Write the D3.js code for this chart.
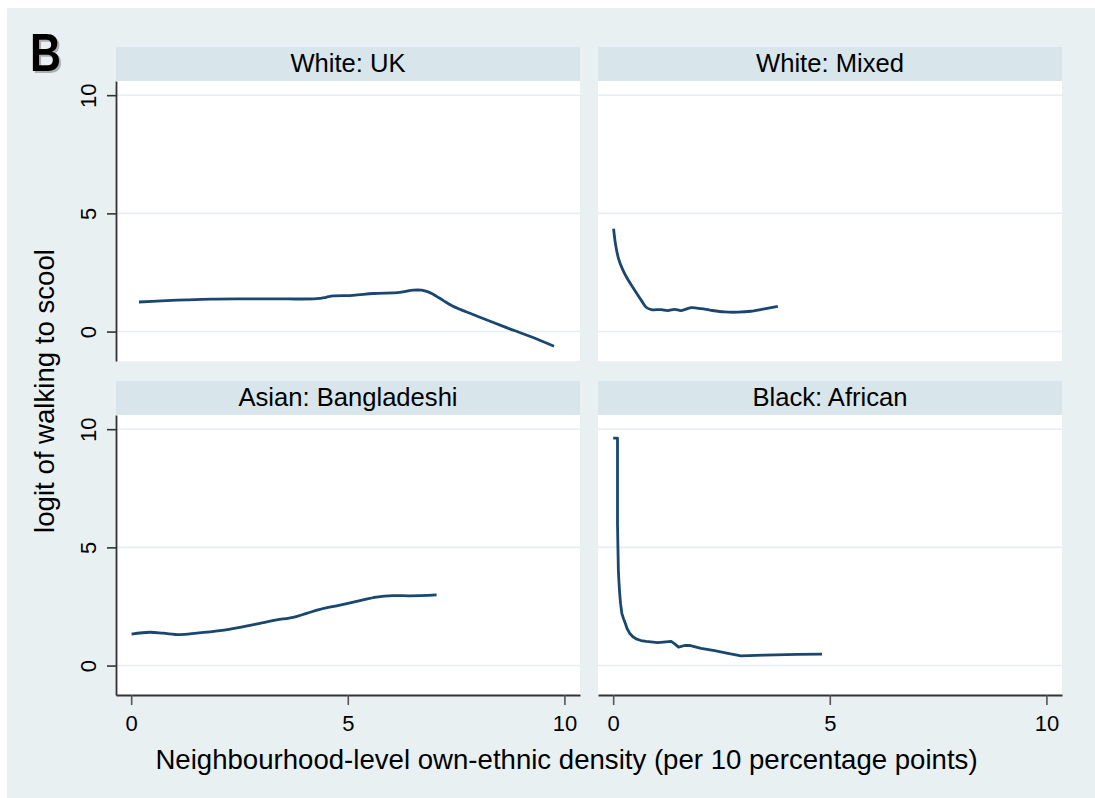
<!DOCTYPE html>
<html>
<head>
<meta charset="utf-8">
<script src="https://cdn.jsdelivr.net/npm/d3@7"></script>
<style>
  html, body { margin: 0; padding: 0; background: #ffffff; }
  svg { display: block; font-family: "Liberation Sans", Arial, sans-serif; }
</style>
</head>
<body>
<svg id="chart" width="1095" height="798"></svg>
<script>
// Panel titles, in reading order (top-left, top-right, bottom-left, bottom-right)
const panelTitles = ["White: UK", "White: Mixed", "Asian: Bangladeshi", "Black: African"];

// Smoothed logit curves: [own-ethnic density, logit of walking to school]
const whiteUK = [
  [0.18, 1.25], [0.70, 1.30], [1.28, 1.34], [1.85, 1.37], [2.43, 1.38], [3.00, 1.38],
  [3.59, 1.38], [4.28, 1.39], [4.50, 1.45], [4.66, 1.51], [5.12, 1.53], [5.59, 1.61],
  [6.20, 1.66], [6.51, 1.75], [6.70, 1.75], [6.82, 1.70], [6.95, 1.60], [7.05, 1.49],
  [7.20, 1.32], [7.43, 1.07], [7.89, 0.72], [8.59, 0.22], [9.20, -0.20], [9.76, -0.62]
];
const whiteMixed = [
  [0.01, 4.35], [0.05, 3.75], [0.12, 3.11], [0.22, 2.62], [0.34, 2.20], [0.49, 1.77],
  [0.65, 1.32], [0.76, 1.03], [0.88, 0.93], [1.11, 0.93], [1.26, 0.89], [1.42, 0.94],
  [1.57, 0.89], [1.80, 1.01], [2.03, 0.97], [2.26, 0.90], [2.57, 0.83], [2.88, 0.82],
  [3.18, 0.86], [3.49, 0.96], [3.80, 1.07]
];
const asianBangladeshi = [
  [0.01, 1.33], [0.43, 1.41], [0.74, 1.37], [1.12, 1.31], [1.51, 1.37], [2.05, 1.48],
  [2.51, 1.62], [3.05, 1.82], [3.36, 1.93], [3.74, 2.04], [4.05, 2.21], [4.36, 2.38],
  [4.82, 2.56], [5.28, 2.75], [5.66, 2.90], [6.05, 2.96], [6.43, 2.95], [7.05, 2.99]
];
const blackAfrican = [
  [0.00, 9.62], [0.10, 9.62], [0.10, 8.00], [0.10, 6.00], [0.11, 5.00], [0.12, 4.04],
  [0.135, 3.50], [0.15, 3.06], [0.17, 2.64], [0.20, 2.21], [0.24, 1.98], [0.28, 1.79],
  [0.32, 1.57], [0.38, 1.37], [0.45, 1.23], [0.53, 1.13], [0.64, 1.06], [0.76, 1.02],
  [1.03, 0.97], [1.34, 1.02], [1.42, 0.92], [1.51, 0.78], [1.65, 0.85], [1.76, 0.85],
  [2.03, 0.73], [2.34, 0.63], [2.65, 0.52], [2.95, 0.41], [3.49, 0.44], [4.26, 0.47],
  [4.82, 0.48]
];
const series = [whiteUK, whiteMixed, asianBangladeshi, blackAfrican];

// Axis ticks and labels
const xTicks = [0, 5, 10];
const yTicks = [0, 5, 10];
const xTitle = "Neighbourhood-level own-ethnic density (per 10 percentage points)";
const yTitle = "logit of walking to scool";
const panelLetter = "B";

// ---- layout ----
const colX = [116, 598];
const plotW = 464;
const stripTop = [47, 381];
const stripH = 34;
const plotH = 280;

const colors = {
  page: "#e8f0f2",
  strip: "#d8e5ea",
  plot: "#ffffff",
  grid: "#e6eef1",
  line: "#1a476f",
  axis: "#333333",
  text: "#000000"
};

// the Black: African curve has a sharp corner at its top, so it is drawn without smoothing
const curves = [
  d3.curveCatmullRom.alpha(0.5),
  d3.curveCatmullRom.alpha(0.5),
  d3.curveCatmullRom.alpha(0.5),
  d3.curveLinear
];

const svg = d3.select("#chart");

svg.append("rect")
  .attr("x", 7).attr("y", 8)
  .attr("width", 1095 - 7).attr("height", 798 - 8)
  .attr("fill", colors.page);

const xDomain = [-0.35, 10.36];
const yDomain = [-1.245, 10.6];

series.forEach((data, i) => {
  const col = i % 2, row = Math.floor(i / 2);
  const left = colX[col];
  const sTop = stripTop[row];
  const pTop = sTop + stripH;

  const x = d3.scaleLinear().domain(xDomain).range([left, left + plotW]);
  const y = d3.scaleLinear().domain(yDomain).range([pTop + plotH, pTop]);

  const g = svg.append("g");

  // strip with panel title
  g.append("rect")
    .attr("x", left).attr("y", sTop)
    .attr("width", plotW).attr("height", stripH)
    .attr("fill", colors.strip);
  g.append("text")
    .attr("x", left + plotW / 2)
    .attr("y", sTop + 24.5)
    .attr("text-anchor", "middle")
    .attr("font-size", 25.6)
    .attr("fill", colors.text)
    .text(panelTitles[i]);

  // plot region
  g.append("rect")
    .attr("x", left).attr("y", pTop)
    .attr("width", plotW).attr("height", plotH)
    .attr("fill", colors.plot);

  // horizontal gridlines
  g.selectAll("line.grid")
    .data(yTicks)
    .join("line")
    .attr("class", "grid")
    .attr("x1", left).attr("x2", left + plotW)
    .attr("y1", d => y(d)).attr("y2", d => y(d))
    .attr("stroke", colors.grid)
    .attr("stroke-width", 1.6);

  // curve
  const line = d3.line()
    .x(d => x(d[0]))
    .y(d => y(d[1]))
    .curve(curves[i]);
  g.append("path")
    .datum(data)
    .attr("d", line)
    .attr("fill", "none")
    .attr("stroke", colors.line)
    .attr("stroke-width", 2.8)
    .attr("stroke-linejoin", "round")
    .attr("stroke-linecap", "butt");

  // y axis on left column
  if (col === 0) {
    const ya = g.append("g")
      .attr("transform", `translate(${left},0)`)
      .call(d3.axisLeft(y).tickValues(yTicks).tickSize(9).tickSizeOuter(0));
    ya.select(".domain").attr("stroke", colors.axis).attr("stroke-width", 1.8);
    ya.selectAll(".tick line").attr("stroke", colors.axis).attr("stroke-width", 1.6);
    ya.selectAll(".tick text")
      .attr("x", null).attr("dy", null)
      .attr("text-anchor", "middle")
      .attr("transform", "translate(-20.5,0) rotate(-90)")
      .attr("font-size", 22)
      .attr("font-family", "Liberation Sans, Arial, sans-serif")
      .attr("fill", colors.text);
  }

  // x axis on bottom row
  if (row === 1) {
    const xa = g.append("g")
      .attr("transform", `translate(0,${pTop + plotH})`)
      .call(d3.axisBottom(x).tickValues(xTicks).tickSize(10).tickSizeOuter(0));
    xa.select(".domain").attr("stroke", colors.axis).attr("stroke-width", 1.8);
    xa.selectAll(".tick line").attr("stroke", "#555555").attr("stroke-width", 1.6);
    xa.selectAll(".tick text")
      .attr("y", 36).attr("dy", null)
      .attr("font-size", 22)
      .attr("font-family", "Liberation Sans, Arial, sans-serif")
      .attr("fill", colors.text);
  }
});

// axis titles
svg.append("text")
  .attr("x", 566.5).attr("y", 769)
  .attr("text-anchor", "middle")
  .attr("font-size", 27.6)
  .attr("fill", colors.text)
  .text(xTitle);

svg.append("text")
  .attr("transform", "translate(54,391) rotate(-90)")
  .attr("text-anchor", "middle")
  .attr("font-size", 27.6)
  .attr("fill", colors.text)
  .text(yTitle);

// panel letter with a soft drop shadow
svg.append("text")
  .attr("x", 32).attr("y", 73)
  .attr("font-size", 54)
  .attr("font-weight", "bold")
  .attr("textLength", 31).attr("lengthAdjust", "spacingAndGlyphs")
  .attr("fill", "#7a7a7a").attr("opacity", 0.55)
  .text(panelLetter);
svg.append("text")
  .attr("x", 30).attr("y", 71)
  .attr("font-size", 54)
  .attr("font-weight", "bold")
  .attr("textLength", 31).attr("lengthAdjust", "spacingAndGlyphs")
  .attr("fill", "#000000")
  .text(panelLetter);
</script>
</body>
</html>
